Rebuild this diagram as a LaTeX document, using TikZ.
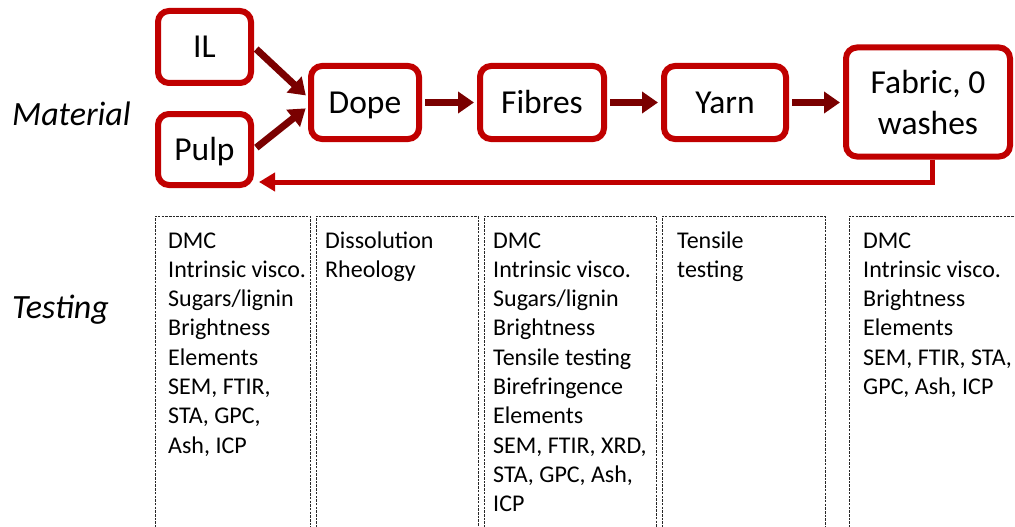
\documentclass[tikz,border=0pt]{standalone}
\usepackage{fontspec}
\setmainfont{Carlito}
\usetikzlibrary{arrows.meta}
\definecolor{boxred}{RGB}{192,0,0}
\definecolor{flowred}{RGB}{122,0,0}
\definecolor{dashgray}{RGB}{40,40,40}
\tikzset{
  stage/.style={draw=boxred, line width=6pt, rounded corners=11pt, fill=white,
    inner sep=0pt, align=center, font=\fontsize{33.5}{41}\selectfont},
  oneline/.style={text height=28pt, text depth=6.4pt},
  flow/.style={draw=flowred, line width=7pt, shorten <=3pt, shorten >=3pt,
    -{Triangle[length=16pt,width=21pt]}},
  backflow/.style={draw=boxred, line width=5pt, shorten >=5pt,
    -{Triangle[length=16pt,width=18pt]}},
  testbox/.style={draw=dashgray, line width=1pt, dash pattern=on 2.5pt off 1.2pt},
  testlist/.style={anchor=base west, inner sep=0pt, font=\fontsize{24}{29.3}\selectfont},
  rowlabel/.style={anchor=base west, inner sep=0pt, font=\fontsize{34}{40}\selectfont\itshape}
}
\newcommand{\testitems}[1]{\begin{tabular}[t]{@{}l@{}}#1\end{tabular}}
\begin{document}
\begin{tikzpicture}[x=1pt,y=-1pt]
\useasboundingbox (0,0) rectangle (1015,527);

% row labels
\node[rowlabel] (matlabel) at (12,125) {Material};
\node[rowlabel] (testlabel) at (12,318) {Testing};

% material stages
\node[stage, oneline, minimum width=93pt, minimum height=72pt] (il) at (204.5,47) {IL};
\node[stage, oneline, minimum width=93pt, minimum height=71pt] (pulp) at (204.5,149.5) {Pulp};
\node[stage, oneline, minimum width=108pt, minimum height=73pt] (dope) at (365,102.5) {Dope};
\node[stage, oneline, minimum width=124pt, minimum height=73pt] (fibres) at (542,102.5) {Fibres};
\node[stage, oneline, minimum width=122pt, minimum height=73pt] (yarn) at (725,102.5) {Yarn};
\node[stage, minimum width=164pt, minimum height=109pt] (fabric) at (928,102) {Fabric, 0\\washes};

% process flow
\draw[flow] (il.east) -- ([yshift=5pt]dope.west);
\draw[flow] (pulp.east) -- ([yshift=-4pt]dope.west);
\draw[flow] (dope.east) -- (fibres.west);
\draw[flow] (fibres.east) -- (yarn.west);
\draw[flow] (yarn.east) -- (yarn.east -| fabric.west);
\draw[backflow] ([xshift=4pt]fabric.south) |- ([yshift=-32.5pt]pulp.east);

% testing columns
\draw[testbox] (155,535) |- (310,216) -- (310,535);
\draw[testbox] (316,535) |- (478,216) -- (478,535);
\draw[testbox] (484,535) |- (656,216) -- (656,535);
\draw[testbox] (662,535) |- (825,216) -- (825,535);
\draw[testbox] (849,535) |- (1020,216);

\node[testlist] (t1) at (168,248) {\testitems{DMC\\Intrinsic visco.\\Sugars/lignin\\Brightness\\Elements\\SEM, FTIR,\\STA, GPC,\\Ash, ICP}};
\node[testlist] (t2) at (325,248) {\testitems{Dissolution\\Rheology}};
\node[testlist] (t3) at (493,248) {\testitems{DMC\\Intrinsic visco.\\Sugars/lignin\\Brightness\\Tensile testing\\Birefringence\\Elements\\SEM, FTIR, XRD,\\STA, GPC, Ash,\\ICP}};
\node[testlist] (t4) at (677,248) {\testitems{Tensile\\testing}};
\node[testlist] (t5) at (863,248) {\testitems{DMC\\Intrinsic visco.\\Brightness\\Elements\\SEM, FTIR, STA,\\GPC, Ash, ICP}};
\end{tikzpicture}
\end{document}
